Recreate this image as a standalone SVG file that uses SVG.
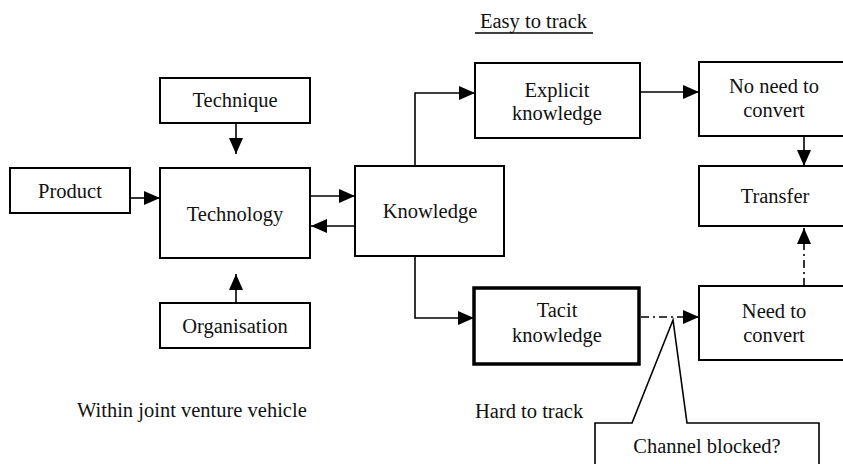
<svg xmlns="http://www.w3.org/2000/svg" width="843" height="464" viewBox="0 0 843 464">
<style>
rect.box{fill:#fff;stroke:#000;stroke-width:2}
rect.thick{fill:#fff;stroke:#000;stroke-width:3.5}
text{font-size:20.5px;fill:#111}
.c{text-anchor:middle}
.ln{fill:none;stroke:#000;stroke-width:1.6}
.dd{fill:none;stroke:#000;stroke-width:1.6;stroke-dasharray:8 4 2 4}
</style>
<defs>
<marker id="ah" markerWidth="16" markerHeight="14" refX="16" refY="7" orient="auto" markerUnits="userSpaceOnUse">
<path d="M0,0 L16,7 L0,14 z" fill="#000"/>
</marker>
</defs>
<rect width="843" height="464" fill="#fff"/>

<g id="connectors">
<line class="ln" x1="236" y1="123" x2="236" y2="154" marker-end="url(#ah)"/>
<line class="ln" x1="236" y1="303" x2="236" y2="274" marker-end="url(#ah)"/>
<line class="ln" x1="130" y1="198" x2="160" y2="198" marker-end="url(#ah)"/>
<line class="ln" x1="311" y1="196" x2="355" y2="196" marker-end="url(#ah)"/>
<line class="ln" x1="355" y1="226" x2="311" y2="226" marker-end="url(#ah)"/>
<path class="ln" d="M415,166 V93 H475" marker-end="url(#ah)"/>
<path class="ln" d="M415,256 V318 H474" marker-end="url(#ah)"/>
<line class="ln" x1="640" y1="92" x2="699" y2="92" marker-end="url(#ah)"/>
<line class="ln" x1="804" y1="136" x2="804" y2="166" marker-end="url(#ah)"/>
<line class="dd" x1="641" y1="317" x2="699" y2="317" marker-end="url(#ah)"/>
<line class="dd" x1="804" y1="286" x2="804" y2="228" marker-end="url(#ah)"/>
</g>

<g font-family="'Times New Roman', 'Liberation Serif', 'DejaVu Serif', serif">
<g id="technique">
<rect class="box" x="160" y="78" width="150" height="45"/>
<text class="c" x="235" y="107">Technique</text>
</g>
<g id="product">
<rect class="box" x="10" y="168" width="120" height="45"/>
<text class="c" x="70" y="198">Product</text>
</g>
<g id="technology">
<rect class="box" x="160" y="168" width="150" height="90"/>
<text class="c" x="235" y="221">Technology</text>
</g>
<g id="organisation">
<rect class="box" x="160" y="303" width="150" height="45"/>
<text class="c" x="235" y="333">Organisation</text>
</g>
<g id="knowledge">
<rect class="box" x="355" y="166" width="149" height="90"/>
<text class="c" x="430" y="218">Knowledge</text>
</g>
<g id="easy-label">
<text x="480" y="28">Easy to track</text>
<line x1="475" y1="33" x2="593" y2="33" stroke="#000" stroke-width="1.5"/>
</g>
<g id="explicit">
<rect class="box" x="475" y="63" width="165" height="75"/>
<text class="c" x="557" y="97">Explicit</text>
<text class="c" x="557" y="120">knowledge</text>
</g>
<g id="no-need">
<rect class="box" x="699" y="62" width="160" height="74"/>
<text class="c" x="774" y="93">No need to</text>
<text class="c" x="774" y="117">convert</text>
</g>
<g id="transfer">
<rect class="box" x="699" y="166" width="160" height="60"/>
<text class="c" x="775" y="203">Transfer</text>
</g>
<g id="tacit">
<rect class="thick" x="474" y="288" width="165" height="76"/>
<text class="c" x="557" y="317">Tacit</text>
<text class="c" x="557" y="342">knowledge</text>
</g>
<g id="need">
<rect class="box" x="699" y="286" width="160" height="74"/>
<text class="c" x="774" y="318">Need to</text>
<text class="c" x="774" y="342">convert</text>
</g>
<g id="callout">
<path d="M595,470 V423 H632 L673,320 L687,423 H819 V470" fill="#fff" stroke="#000" stroke-width="1.6"/>
<text class="c" x="707" y="453">Channel blocked?</text>
</g>
<g id="labels">
<text x="475" y="418">Hard to track</text>
<text x="77" y="417">Within joint venture vehicle</text>
</g>
</g>
</svg>
